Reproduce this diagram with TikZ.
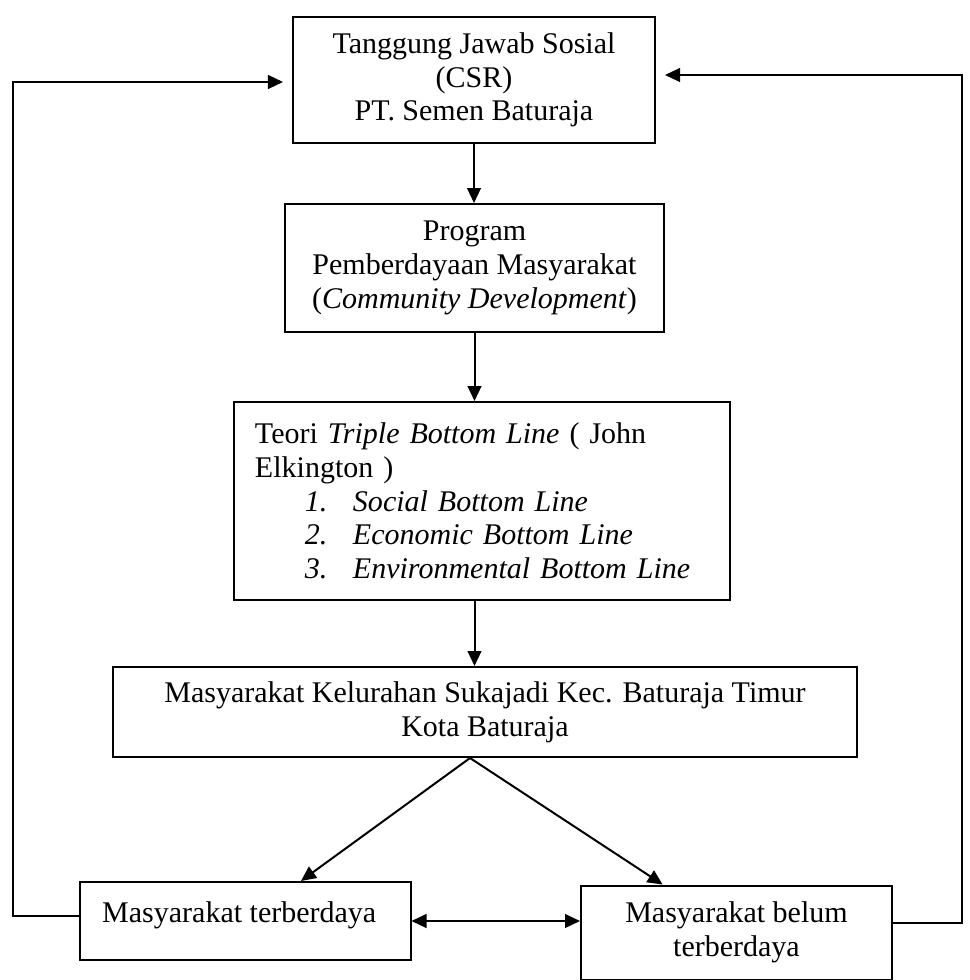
\documentclass[tikz,border=0pt]{standalone}
\usepackage{fontspec}
\setmainfont{Liberation Serif}
\usetikzlibrary{arrows.meta,calc}
\begin{document}
\begin{tikzpicture}[x=0.4pt,y=-0.4pt,
  box/.style={draw,line width=0.8pt,rectangle,align=center,inner sep=2pt,
    font=\fontsize{12pt}{13.5pt}\selectfont},
  arr/.style={line width=0.8pt,-{Triangle[length=6pt,width=5.5pt]}},
  darr/.style={line width=0.8pt,{Triangle[length=6pt,width=5.5pt]}-{Triangle[length=6pt,width=5.5pt]}},
  plain/.style={line width=0.8pt}]
\useasboundingbox[fill=white] (0,0) rectangle (970,980);

\node[box,minimum width=144.8pt,minimum height=50.4pt] (b1) at (474,80)
  {Tanggung Jawab Sosial\\(CSR)\\PT. Semen Baturaja};
\node[box,minimum width=151.6pt,minimum height=51.2pt] (b2) at (474.5,268)
  {Program\\Pemberdayaan Masyarakat\\(\textit{Community Development})};
\node[box,minimum width=198.4pt,minimum height=79.2pt,text width=181.6pt,
  inner xsep=8.4pt,align=left] (b3) at (482,501)
  {Teori \textit{Triple Bottom Line} ( John\\
   Elkington )\\
   \hspace*{20pt}\makebox[19.2pt][l]{\textit{1.}}\textit{Social Bottom Line}\\
   \hspace*{20pt}\makebox[19.2pt][l]{\textit{2.}}\textit{Economic Bottom Line}\\
   \hspace*{20pt}\makebox[19.2pt][l]{\textit{3.}}\textit{Environmental Bottom Line}};
\node[box,minimum width=297.6pt,minimum height=36pt] (b4) at (485,712)
  {Masyarakat Kelurahan Sukajadi Kec. Baturaja Timur\\Kota Baturaja};
\node[box,minimum width=132pt,minimum height=31.2pt] (b5) at (245.5,921)
  {\raisebox{7pt}{Masyarakat terberdaya}\hspace*{5pt}};
\node[box,minimum width=124.4pt,minimum height=37.6pt] (b6) at (736.5,932.5)
  {Masyarakat belum\\terberdaya};

\coordinate (split) at ($(b4.south)+(-15,0)$);
\coordinate (lc) at (13,0);
\coordinate (rc) at (962,0);

\draw[arr] (b1.south) -- (b1.south |- b2.north);
\draw[arr] (b2.south) -- (b2.south |- b3.north);
\draw[arr] (b2.south |- b3.south) -- (b2.south |- b4.north);
\draw[arr] (split) -- ($(b5.north west)!0.667!(b5.north east)$);
\draw[arr] (split) -- ($(b6.north west)!0.264!(b6.north east)$);
\draw[darr] (b5.east) -- (b5.east -| b6.west);
\draw[arr,shorten >=3.6pt] ([yshift=2pt]b5.west) -- ([yshift=2pt]b5.west -| lc) |- ([yshift=-0.8pt]b1.west);
\draw[arr,shorten >=3.6pt] ([yshift=4pt]b6.east) -- ([yshift=4pt]b6.east -| rc) |- ([yshift=2pt]b1.east);
\end{tikzpicture}
\end{document}
